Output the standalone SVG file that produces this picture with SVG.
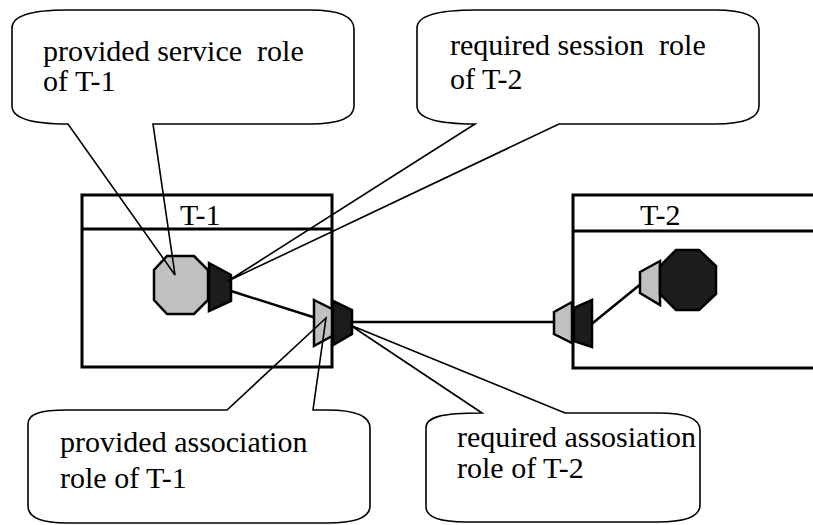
<svg xmlns="http://www.w3.org/2000/svg" width="813" height="525" viewBox="0 0 813 525">
  <style>
    .box { fill: none; stroke: #000; stroke-width: 3; }
    .light { fill: #c0c0c0; stroke: #000; stroke-width: 2.5; stroke-linejoin: miter; }
    .dark { fill: #1c1c1c; stroke: #000; stroke-width: 2.5; stroke-linejoin: miter; }
    .wire { stroke: #000; stroke-width: 2.5; fill: none; }
    .callout { fill: none; stroke: #000; stroke-width: 1.6; stroke-linejoin: miter; }
    .label { font-family: 'Liberation Serif', 'Times New Roman', serif; font-size: 30px; fill: #000; }
  </style>
  <rect width="813" height="525" fill="#fff"/>

  <!-- component T-1 -->
  <g id="t1">
    <rect class="box" x="82" y="195" width="250" height="172"/>
    <line class="box" x1="82" y1="229" x2="332" y2="229"/>
    <text class="label" x="180" y="225">T-1</text>
  </g>

  <!-- component T-2 (runs off the right edge) -->
  <g id="t2">
    <path class="box" d="M 830,195 L 573,195 L 573,368 L 830,368"/>
    <line class="box" x1="573" y1="231" x2="830" y2="231"/>
    <text class="label" x="640" y="225">T-2</text>
  </g>

  <!-- connectors -->
  <g id="connectors">
    <line class="wire" x1="231" y1="291" x2="316" y2="318"/>
    <line class="wire" x1="352" y1="322" x2="555" y2="322"/>
    <line class="wire" x1="583" y1="331" x2="642" y2="283"/>
  </g>

  <!-- roles of T-1 -->
  <g id="t1-service-provided">
    <polygon class="light" points="167,256 194,256 208,270 208,300 194,314 167,314 154,300 154,270"/>
  </g>
  <g id="t1-session-required">
    <polygon class="dark" points="209,263 231,275 231,301 209,311"/>
  </g>
  <g id="t1-association-provided">
    <polygon class="light" points="314,300 332,309 332,336 314,346"/>
  </g>
  <g id="t1-association-required">
    <polygon class="dark" points="333,301 352,310 352,334 333,345"/>
  </g>

  <!-- roles of T-2 -->
  <g id="t2-association-provided">
    <polygon class="light" points="554,312 572,302 572,343 554,334"/>
  </g>
  <g id="t2-association-required">
    <polygon class="dark" points="574,308 592,300 592,347 574,341"/>
  </g>
  <g id="t2-session-provided">
    <polygon class="light" points="640,272 660,261 660,305 640,293"/>
  </g>
  <g id="t2-service">
    <polygon class="dark" points="676,250 699,250 716,266 716,294 699,310 676,310 660,294 660,266"/>
  </g>

  <!-- callouts -->
  <g id="callout-provided-service">
    <path class="callout" d="M 67,10 L 310,10 C 340,10 354,17 354,29 L 354,106 C 354,118 340,124 310,124 L 153,124 L 175,275 L 68,124 C 30,124 12,118 12,106 L 12,28 C 12,16 30,10 67,10 Z"/>
    <text class="label" x="43" y="61" xml:space="preserve">provided service  role</text>
    <text class="label" x="43" y="91">of T-1</text>
  </g>
  <g id="callout-required-session">
    <path class="callout" d="M 476,10 L 715,10 C 745,10 759,17 759,29 L 759,106 C 759,118 745,124 715,124 L 559,124 L 228,281 L 475,124 C 436,124 417,118 417,106 L 417,28 C 417,16 436,10 476,10 Z"/>
    <text class="label" x="450" y="55" xml:space="preserve">required session  role</text>
    <text class="label" x="450" y="89">of T-2</text>
  </g>
  <g id="callout-provided-association">
    <path class="callout" d="M 67,410 L 227,410 L 326,318 L 313,410 L 327,410 C 357,410 370,417 370,428 L 370,506 C 370,517 357,523 327,523 L 67,523 C 40,523 28,517 28,506 L 28,424 C 28,414 40,410 67,410 Z"/>
    <text class="label" x="60" y="452">provided association</text>
    <text class="label" x="60" y="488">role of T-1</text>
  </g>
  <g id="callout-required-association">
    <path class="callout" d="M 482,413 L 350,325 L 565,413 L 658,413 C 688,413 700,419 700,430 L 700,505 C 700,516 688,522 658,522 L 466,522 C 439,522 426,517 426,507 L 426,428 C 426,417 441,413 482,413 Z"/>
    <text class="label" x="457" y="447">required assosiation</text>
    <text class="label" x="457" y="478">role of T-2</text>
  </g>
</svg>
